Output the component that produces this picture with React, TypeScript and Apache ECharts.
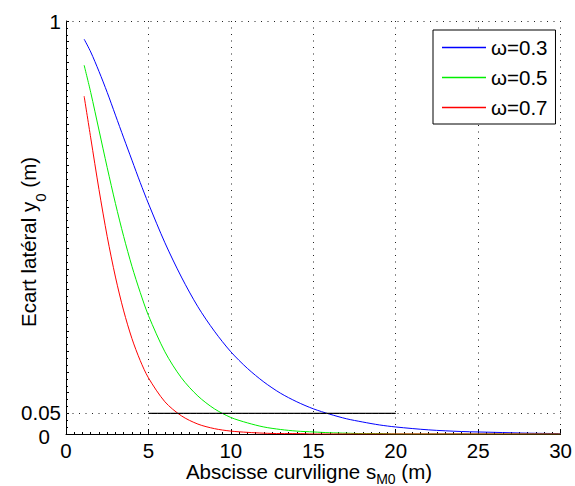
import React, { useEffect, useRef } from "react";
import * as echarts from "echarts";

// Abscissa samples (m)
const sValues = [1.1, 1.5, 2, 2.5, 3, 3.5, 4, 4.5, 5, 6, 7, 8, 9, 10, 11, 12, 13, 14, 15, 16, 17, 18, 19, 20, 22, 24, 26, 28, 30];
// Lateral offset y0 (m)
const omega03 = [0.956, 0.925, 0.878, 0.827, 0.772, 0.717, 0.663, 0.609, 0.558, 0.463, 0.38, 0.308, 0.249, 0.199, 0.159, 0.126, 0.099, 0.078, 0.061, 0.048, 0.037, 0.029, 0.022, 0.017, 0.01, 0.006, 0.004, 0.002, 0.001];
const omega05 = [0.893, 0.827, 0.736, 0.645, 0.558, 0.478, 0.406, 0.343, 0.287, 0.199, 0.136, 0.092, 0.061, 0.04, 0.027, 0.017, 0.011, 0.007, 0.005, 0.003, 0.002, 0.001, 0.001, 0, 0, 0, 0, 0, 0];
const omega07 = [0.818, 0.717, 0.592, 0.478, 0.38, 0.298, 0.231, 0.178, 0.136, 0.078, 0.044, 0.024, 0.013, 0.007, 0.004, 0.002, 0.001, 0.001, 0, 0, 0, 0, 0, 0, 0, 0, 0, 0, 0];
const seriesNames = ["ω=0.3", "ω=0.5", "ω=0.7"];
const seriesColors = ["#0000ff", "#00ee00", "#ff0000"];
// Threshold segment
const thresholdX = [5, 20];
const thresholdY = 0.05;
// y tick labels: ends on main axis, threshold on the secondary one
const yEndLabels = [0, 1];
const yInnerLabels = [0.05];
// Axis titles
const xTitleMain = "Abscisse curviligne s";
const xTitleSub = "M0";
const xTitleTail = " (m)";

const FONT = "'Liberation Sans', Arial, Helvetica, sans-serif";
const FS = 20.5;

function measure(text: string, size: number): number {
  const c = document.createElement("canvas");
  const ctx = c.getContext("2d");
  if (!ctx) return text.length * size * 0.5;
  ctx.font = `${size}px ${FONT}`;
  return ctx.measureText(text).width;
}

function pick(list: number[], v: number): number | null {
  for (const t of list) if (Math.abs(v - t) < 1e-9) return t;
  return null;
}

export default function App() {
  const ref = useRef<HTMLDivElement>(null);
  useEffect(() => {
    if (!ref.current) return;
    const chart = echarts.init(ref.current, null, { renderer: "svg" });
    const curves = [omega03, omega05, omega07].map((vals, i) => ({
      type: "line",
      name: seriesNames[i],
      data: sValues.map((s, k) => [s, vals[k]]),
      symbol: "none",
      smooth: 0.3,
      lineStyle: { color: seriesColors[i], width: 1 },
      itemStyle: { color: seriesColors[i] },
      z: 3,
    }));

    const wMain = measure(xTitleMain, FS);
    const wSub = measure(xTitleSub, 14);
    const wTail = measure(xTitleTail, FS);
    const xStart = 309 - (wMain + wSub + wTail) / 2;

    const option: any = {
      animation: false,
      backgroundColor: "#ffffff",
      grid: { left: 66, right: 9, top: 21, bottom: 52, containLabel: false },
      xAxis: {
        type: "value",
        min: 0,
        max: 30,
        interval: 5,
        axisLine: { show: true, lineStyle: { color: "#000", width: 1 } },
        axisTick: { show: true, inside: true, length: 5, lineStyle: { color: "#000" } },
        minorTick: { show: true, splitNumber: 10, length: 2, lineStyle: { color: "#000" } },
        axisLabel: { color: "#000", fontSize: FS, lineHeight: 16, fontFamily: FONT, margin: 8 },
        splitLine: { show: true, lineStyle: { color: "#222", width: 1, type: [1, 5.5] } },
      },
      yAxis: [
        {
          type: "value",
          min: 0,
          max: 1,
          interval: 0.05,
          position: "left",
          axisLine: { show: true, lineStyle: { color: "#000", width: 1 } },
          axisTick: { show: true, inside: true, length: 3, lineStyle: { color: "#000" } },
          minorTick: { show: true, splitNumber: 3, length: 2, lineStyle: { color: "#000" } },
          axisLabel: {
            color: "#000",
            fontSize: FS,
            lineHeight: 16,
            fontFamily: FONT,
            margin: 5,
            showMaxLabel: true,
            showMinLabel: true,
            formatter: (v: number) => {
              const t = pick(yEndLabels, v);
              if (t === null) return "";
              return t === 0 ? "{z|0}" : String(t);
            },
            rich: { z: { fontSize: FS, lineHeight: 16, fontFamily: FONT, color: "#000", padding: [4, 11, 0, 0] } },
          },
          splitLine: { show: false },
        },
        {
          type: "value",
          min: 0,
          max: 1,
          interval: 0.05,
          position: "left",
          offset: 0,
          axisLine: { show: false },
          axisTick: { show: false },
          splitLine: { show: false },
          axisLabel: {
            color: "#000",
            fontSize: FS,
            lineHeight: 16,
            fontFamily: FONT,
            margin: 5,
            showMinLabel: false,
            showMaxLabel: false,
            formatter: (v: number) => {
              const t = pick(yInnerLabels, v);
              return t === null ? "" : "{t|" + String(t) + "}";
            },
            rich: { t: { fontSize: FS, lineHeight: 16, fontFamily: FONT, color: "#000", padding: [0, 0, 2, 0] } },
          },
        },
      ],
      legend: {
        orient: "vertical",
        left: 433,
        top: 30,
        data: seriesNames,
        icon: "rect",
        itemWidth: 44,
        itemHeight: 1.5,
        itemGap: 9,
        padding: [7, 8, 6, 9],
        backgroundColor: "#fff",
        borderColor: "#000",
        borderWidth: 1,
        textStyle: { fontSize: FS, fontFamily: FONT, color: "#000", lineHeight: 20 },
      },
      graphic: [
        {
          type: "text",
          x: xStart,
          y: 471,
          style: { text: xTitleMain, font: `${FS}px ${FONT}`, fill: "#000", align: "left", verticalAlign: "middle", lineHeight: 18 },
        },
        {
          type: "text",
          x: xStart + wMain,
          y: 479,
          style: { text: xTitleSub, font: `14px ${FONT}`, fill: "#000", align: "left", verticalAlign: "middle", lineHeight: 10 },
        },
        {
          type: "text",
          x: xStart + wMain + wSub,
          y: 471,
          style: { text: xTitleTail, font: `${FS}px ${FONT}`, fill: "#000", align: "left", verticalAlign: "middle", lineHeight: 18 },
        },
        {
          type: "text",
          x: 28,
          y: 242,
          rotation: Math.PI / 2,
          style: {
            text: "{a|Ecart latéral y}{b|0}{a| (m)}",
            align: "center",
            verticalAlign: "middle",
            rich: {
              a: { fontSize: FS, fontFamily: FONT, fill: "#000" },
              b: { fontSize: 15, fontFamily: FONT, fill: "#000", padding: [24, 0, 0, 0] },
            },
          },
        },
      ],
      series: [
        {
          type: "line",
          name: "grid",
          data: [],
          silent: true,
          z: 1,
          markLine: {
            silent: true,
            symbol: ["none", "none"],
            label: { show: false },
            lineStyle: { color: "#222", width: 1, type: [1, 5.5] },
            data: [{ yAxis: thresholdY }, { yAxis: 1 }],
          },
        },
        ...curves,
        {
          type: "line",
          name: "seuil",
          data: thresholdX.map((x) => [x, thresholdY]),
          symbol: "none",
          lineStyle: { color: "#000", width: 1.3 },
          itemStyle: { color: "#000" },
          z: 4,
        },
      ],
    };
    chart.setOption(option);
    return () => chart.dispose();
  }, []);
  return (
    <div
      ref={ref}
      style={{ position: "fixed", left: 0, top: 0, width: 575, height: 486, background: "#fff" }}
    />
  );
}
